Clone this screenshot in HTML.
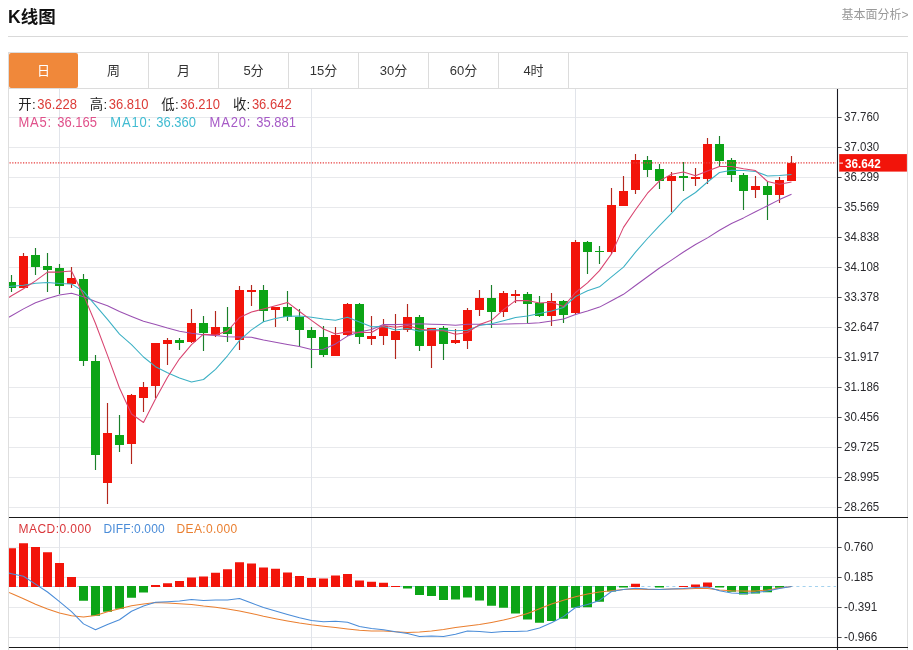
<!DOCTYPE html>
<html lang="zh-CN"><head><meta charset="utf-8"><title>K线图</title>
<style>
html,body{margin:0;padding:0;background:#fff}
body{width:913px;height:650px;position:relative;overflow:hidden;font-family:"Liberation Sans","Noto Sans CJK SC",sans-serif;color:#222}
.title{position:absolute;left:8px;top:4.8px;font-size:17.5px;font-weight:bold;color:#111;line-height:24px}
.more{position:absolute;right:4.6px;top:6px;font-size:12px;color:#999;line-height:18px}
.hr{position:absolute;left:8px;top:36px;width:900px;height:1px;background:#d9d9d9}
.tabs{position:absolute;left:8px;top:52px;width:898px;height:35px;border:1px solid #dcdcdc;background:#fff}
.tab{position:absolute;top:0;width:70px;height:35px;line-height:36px;text-align:center;font-size:13px;color:#333;border-right:1px solid #dcdcdc;box-sizing:border-box}
.tab.on{background:#f0883a;color:#fff;border-right:0;border-radius:3px 0 0 3px;width:69px;height:34.6px;line-height:35.4px;left:0.2px;top:0.4px;border-radius:2px}
.lg{position:absolute;white-space:nowrap;line-height:20px;transform:scaleY(1.09);transform-origin:0 50%}
.lg i{font-style:normal;position:absolute;top:0}
.l1{left:0;top:95.4px;font-size:13px;color:#222;height:20px}
.l1 .c{font-size:13.4px;top:-0.3px;transform:scaleY(0.9);transform-origin:0 55%;letter-spacing:0.3px}
.l1 .v{color:#dc3c38}
.l2{left:0;top:112.6px;font-size:13px;height:20px}
.l3{left:0;top:518.6px;font-size:12px;height:20px}
</style></head><body>
<div class="title">K线图</div>
<div class="more">基本面分析&gt;</div>
<div class="hr"></div>
<div class="tabs">
<div class="tab on" style="left:0">日</div>
<div class="tab" style="left:70px">周</div>
<div class="tab" style="left:140px">月</div>
<div class="tab" style="left:210px">5分</div>
<div class="tab" style="left:280px">15分</div>
<div class="tab" style="left:350px">30分</div>
<div class="tab" style="left:420px">60分</div>
<div class="tab" style="left:490px">4时</div>
</div>
<svg width="913" height="650" viewBox="0 0 913 650" style="position:absolute;left:0;top:0">
<defs><clipPath id="cp"><rect x="9" y="89" width="828" height="558"/></clipPath></defs>
<path d="M9 117.5H836M9 147.5H836M9 177.5H836M9 207.5H836M9 237.5H836M9 267.5H836M9 297.5H836M9 327.5H836M9 357.5H836M9 387.5H836M9 417.5H836M9 447.5H836M9 477.5H836M9 507.5H836M9 547.5H836M9 577.5H836M9 607.5H836M9 637.5H836" stroke="#e8e9ec" stroke-width="1" fill="none"/>
<path d="M59.5 89V650M311.5 89V650M575.5 89V650" stroke="#e1e4ea" stroke-width="1" fill="none"/>
<path d="M8.5 88V650M907.5 88V650" stroke="#dedede" stroke-width="1" fill="none"/>
<path d="M9 586.5H836" stroke="#a4d2ee" stroke-width="1" stroke-dasharray="3 3.2" fill="none"/>
<g clip-path="url(#cp)">
<path d="M23.5 253V288M71.5 267V288M107.5 403V504M131.5 394V464M143.5 382V412M155.5 343V398M167.5 338V365M191.5 309V343M215.5 311V337M239.5 286V350M251.5 285V306M275.5 307V327M335.5 327V356M347.5 303V336M371.5 316V345M383.5 319V345M395.5 314V359M407.5 304V332M431.5 328V368M455.5 329V344M467.5 308V349M479.5 290V316M503.5 291V317M515.5 290V303M551.5 293V326M575.5 240V314M611.5 188V254M623.5 176V206M635.5 154V194M671.5 172V212M695.5 168V186M707.5 138V184M755.5 176V198M779.5 177V203M791.5 156V181" stroke="#b3261c" stroke-width="1.15" fill="none"/>
<path d="M19 256h9V288h-9zM67 278h9V284h-9zM103 433h9V483h-9zM127 395h9V444h-9zM139 387h9V398h-9zM151 343h9V386h-9zM163 340h9V344h-9zM187 323h9V342h-9zM211 327h9V335h-9zM235 290h9V340h-9zM247 290h9V292h-9zM271 307h9V310h-9zM331 335h9V356h-9zM343 304h9V335h-9zM367 336h9V339h-9zM379 326h9V336h-9zM391 331h9V340h-9zM403 317h9V330h-9zM427 328h9V346h-9zM451 340h9V343h-9zM463 310h9V341h-9zM475 298h9V310h-9zM499 293h9V312h-9zM511 294h9V296h-9zM547 301h9V316h-9zM571 242h9V313h-9zM607 205h9V252h-9zM619 191h9V206h-9zM631 160h9V190h-9zM667 176h9V181h-9zM691 177h9V179h-9zM703 144h9V179h-9zM751 186h9V190h-9zM775 180h9V195h-9zM787 163h9V181h-9z" fill="#f2140a"/>
<path d="M11.5 275V292M35.5 248V275M47.5 253V292M59.5 264V294M83.5 274V366M95.5 355V470M119.5 415V452M179.5 338V350M203.5 316V351M227.5 307V342M263.5 285V322M287.5 291V321M299.5 309V347M311.5 327V368M323.5 326V357M359.5 303V344M419.5 315V351M443.5 326V360M491.5 285V328M527.5 292V323M539.5 296V317M563.5 300V323M587.5 241V274M599.5 246V264M647.5 156V177M659.5 164V189M683.5 162V191M719.5 136V167M731.5 158V182M743.5 173V210M767.5 182V220" stroke="#1a7f2a" stroke-width="1.15" fill="none"/>
<path d="M7 282h9V288h-9zM31 255h9V267h-9zM43 266h9V270h-9zM55 268h9V286h-9zM79 279h9V361h-9zM91 361h9V455h-9zM115 435h9V445h-9zM175 340h9V343h-9zM199 323h9V333h-9zM223 327h9V334h-9zM259 290h9V311h-9zM283 307h9V317h-9zM295 317h9V330h-9zM307 330h9V338h-9zM319 337h9V355h-9zM355 304h9V337h-9zM415 317h9V346h-9zM439 328h9V344h-9zM487 298h9V312h-9zM523 294h9V304h-9zM535 303h9V316h-9zM559 301h9V315h-9zM583 242h9V252h-9zM595 251h9V252h-9zM643 160h9V170h-9zM655 169h9V181h-9zM679 176h9V178h-9zM715 144h9V161h-9zM727 160h9V175h-9zM739 175h9V191h-9zM763 186h9V195h-9z" fill="#0ca416"/>
<path d="M7 548.2h9V587h-9zM19 543.2h9V587h-9zM31 546.9h9V587h-9zM43 552.2h9V587h-9zM55 563.1h9V587h-9zM67 577.1h9V587h-9zM151 585h9V587h-9zM163 583.2h9V587h-9zM175 581.1h9V587h-9zM187 577.5h9V587h-9zM199 576.6h9V587h-9zM211 572.7h9V587h-9zM223 569.2h9V587h-9zM235 562.2h9V587h-9zM247 563.6h9V587h-9zM259 567.5h9V587h-9zM271 568.7h9V587h-9zM283 572.4h9V587h-9zM295 576h9V587h-9zM307 578h9V587h-9zM319 578.5h9V587h-9zM331 575.4h9V587h-9zM343 574.1h9V587h-9zM355 580.6h9V587h-9zM367 581.8h9V587h-9zM379 582.7h9V587h-9zM391 586h9V587h-9zM631 583.8h9V587h-9zM679 585.9h9V587h-9zM691 584.5h9V587h-9zM703 582.4h9V587h-9z" fill="#f2140a"/>
<path d="M79 586h9V600.8h-9zM91 586h9V615.7h-9zM103 586h9V611.7h-9zM115 586h9V608.7h-9zM127 586h9V597.8h-9zM139 586h9V592.4h-9zM403 586h9V588.5h-9zM415 586h9V595h-9zM427 586h9V595.9h-9zM439 586h9V599.9h-9zM451 586h9V599.6h-9zM463 586h9V597.6h-9zM475 586h9V600.4h-9zM487 586h9V605.7h-9zM499 586h9V607.8h-9zM511 586h9V613.6h-9zM523 586h9V619.6h-9zM535 586h9V622.7h-9zM547 586h9V621h-9zM559 586h9V618.7h-9zM571 586h9V607.8h-9zM583 586h9V607.3h-9zM595 586h9V601.7h-9zM607 586h9V591.5h-9zM619 586h9V587.6h-9zM655 586h9V587.6h-9zM715 586h9V587.6h-9zM727 586h9V591.7h-9zM739 586h9V594.4h-9zM751 586h9V593.4h-9zM763 586h9V592.3h-9zM775 586h9V587.7h-9z" fill="#0ca416"/>
<polyline points="-0.5,323 11.5,315.7 23.5,308.9 35.5,302.8 47.5,298.4 59.5,294.9 71.5,293.2 83.5,296.7 95.5,301.6 107.5,305.8 119.5,311.5 131.5,316.5 143.5,321.3 155.5,324.6 167.5,328.1 179.5,331.2 191.5,333.3 203.5,334.7 215.5,335.6 227.5,336.7 239.5,336.9 251.5,337.3 263.5,340.1 275.5,342.2 287.5,344.5 299.5,346.6 311.5,349.6 323.5,349.2 335.5,343.9 347.5,336.1 359.5,332 371.5,329.6 383.5,324.6 395.5,324.6 407.5,324.3 419.5,323.8 431.5,324.3 443.5,324.6 455.5,325.2 467.5,324.3 479.5,324.3 491.5,324.6 503.5,324.1 515.5,323.8 527.5,323.4 539.5,322.7 551.5,321.1 563.5,318.9 575.5,314.5 587.5,311 599.5,307.1 611.5,300.8 623.5,294.3 635.5,285.5 647.5,276.8 659.5,268 671.5,260.1 683.5,252 695.5,244.5 707.5,237.9 719.5,230.3 731.5,223.5 743.5,217.9 755.5,211.8 767.5,205.7 779.5,199.6 791.5,194.3" stroke="#9a50b2" stroke-width="1.05" fill="none" stroke-linejoin="round"/>
<polyline points="-0.5,287.5 11.5,286.3 23.5,285.3 35.5,283.2 47.5,282.6 59.5,283.5 71.5,284 83.5,291.4 95.5,305.3 107.5,319.3 119.5,334.2 131.5,344.7 143.5,357 155.5,366.7 167.5,372.8 179.5,378.1 191.5,381.9 203.5,379.5 215.5,369.3 227.5,355.8 239.5,340.4 251.5,329.9 263.5,321.7 275.5,318.5 287.5,316.2 299.5,315.9 311.5,317.3 323.5,319 335.5,320.3 347.5,317.3 359.5,322 371.5,326.8 383.5,326.4 395.5,329.9 407.5,328.5 419.5,331.3 431.5,329.6 443.5,329.9 455.5,330.8 467.5,330.3 479.5,325.5 491.5,323.8 503.5,320.8 515.5,317.6 527.5,315.9 539.5,313.6 551.5,311 563.5,307.5 575.5,296.6 587.5,290.8 599.5,286.8 611.5,276.8 623.5,267.1 635.5,252.2 647.5,238.5 659.5,225.6 671.5,213.3 683.5,200.2 695.5,192.5 707.5,182 719.5,172.5 731.5,170.3 743.5,170.6 755.5,171.5 767.5,175.9 779.5,175.5 791.5,174.6" stroke="#3bb0c4" stroke-width="1.05" fill="none" stroke-linejoin="round"/>
<polyline points="-0.5,304 11.5,295.7 23.5,288.8 35.5,280.9 47.5,272.1 59.5,272.1 71.5,270.9 83.5,294.9 95.5,323.5 107.5,355.4 119.5,388 131.5,414 143.5,422.5 155.5,399.1 167.5,377.2 179.5,358.8 191.5,344.7 203.5,334.2 215.5,335.1 227.5,331 239.5,317.6 251.5,312 263.5,308.9 275.5,305.7 287.5,302.4 299.5,311.5 311.5,320.3 323.5,329 335.5,334 347.5,331.7 359.5,332.5 371.5,332.5 383.5,325.5 395.5,327.3 407.5,325.5 419.5,329 431.5,330.8 443.5,330.8 455.5,334.3 467.5,332.5 479.5,324.6 491.5,320.3 503.5,309.7 515.5,300.6 527.5,300.5 539.5,303.1 551.5,302.2 563.5,306.6 575.5,292.5 587.5,282.9 599.5,270.6 611.5,253.9 623.5,227.4 635.5,209.8 647.5,193.2 659.5,180.9 671.5,174.2 683.5,172.1 695.5,175.7 707.5,171.1 719.5,166.6 731.5,166.5 743.5,168.8 755.5,170.6 767.5,181.5 779.5,184.3 791.5,182" stroke="#d8436f" stroke-width="1.05" fill="none" stroke-linejoin="round"/>
<polyline points="-0.5,589 11.5,593.5 23.5,598.7 35.5,604.3 47.5,609 59.5,613.1 71.5,615.7 83.5,616.9 95.5,615.4 107.5,611.8 119.5,608.7 131.5,605.7 143.5,603.9 155.5,602.5 167.5,603.1 179.5,603.8 191.5,604.6 203.5,606.1 215.5,607.3 227.5,609 239.5,611 251.5,613.4 263.5,616.2 275.5,618.7 287.5,621 299.5,623.1 311.5,624.8 323.5,626.2 335.5,627.5 347.5,628.9 359.5,630.3 371.5,631 383.5,631.1 395.5,631.8 407.5,632.4 419.5,632 431.5,631 443.5,629.4 455.5,627.5 467.5,625.9 479.5,624.5 491.5,622.4 503.5,620.1 515.5,617.1 527.5,613.6 539.5,608.7 551.5,603.9 563.5,600.3 575.5,596.8 587.5,594.1 599.5,592 611.5,590.8 623.5,589.4 635.5,589 647.5,589.4 659.5,589.4 671.5,589 683.5,588.9 695.5,588.5 707.5,588.5 719.5,589.9 731.5,590.8 743.5,591.1 755.5,591.1 767.5,590 779.5,588 791.5,586.4" stroke="#ea7f30" stroke-width="1.05" fill="none" stroke-linejoin="round"/>
<polyline points="-0.5,571 11.5,573.7 23.5,576.2 35.5,584.1 47.5,592 59.5,601.7 71.5,611.7 83.5,623.9 95.5,629.7 107.5,624.5 119.5,619.7 131.5,611.3 143.5,606.1 155.5,602.3 167.5,601.7 179.5,601.1 191.5,599.6 203.5,600.4 215.5,599.9 227.5,599.9 239.5,598.5 251.5,603.1 263.5,607.5 275.5,611 287.5,614.5 299.5,617.8 311.5,620.4 323.5,621.8 335.5,621.3 347.5,622.2 359.5,626.6 371.5,628.5 383.5,629.7 395.5,631.8 407.5,633.6 419.5,636.4 431.5,635.9 443.5,636.4 455.5,634.3 467.5,631.1 479.5,631.5 491.5,632.4 503.5,631.5 515.5,631.5 527.5,631 539.5,628 551.5,622.7 563.5,616.6 575.5,607.5 587.5,604.6 599.5,600.4 611.5,591.5 623.5,589.4 635.5,588.2 647.5,589 659.5,589.4 671.5,589 683.5,588.5 695.5,587.6 707.5,587.1 719.5,590.8 731.5,592.9 743.5,593.4 755.5,592.5 767.5,591 779.5,588.5 791.5,586.4" stroke="#4a8cd8" stroke-width="1.05" fill="none" stroke-linejoin="round"/>
</g>
<path d="M9.5 162.9H836" stroke="#e63c3c" stroke-width="1.4" stroke-dasharray="1.25 1.45" fill="none"/>
<path d="M9 517.5H908M9 647.5H908" stroke="#1a1a1a" stroke-width="1.15" fill="none"/>
<path d="M837.5 89V650" stroke="#1a1a22" stroke-width="1.1" fill="none"/>
<path d="M838 117.5h3.6M838 147.5h3.6M838 177.5h3.6M838 207.5h3.6M838 237.5h3.6M838 267.5h3.6M838 297.5h3.6M838 327.5h3.6M838 357.5h3.6M838 387.5h3.6M838 417.5h3.6M838 447.5h3.6M838 477.5h3.6M838 507.5h3.6M838 547.5h3.6M838 577.5h3.6M838 607.5h3.6M838 637.5h3.6" stroke="#333" stroke-width="0.9" fill="none"/>
<g font-family="Liberation Sans, sans-serif" font-size="12.8" fill="#2a2a2e">
<text x="844" y="121.4" textLength="35.2" lengthAdjust="spacingAndGlyphs">37.760</text>
<text x="844" y="151.4" textLength="35.2" lengthAdjust="spacingAndGlyphs">37.030</text>
<text x="844" y="181.4" textLength="35.2" lengthAdjust="spacingAndGlyphs">36.299</text>
<text x="844" y="211.4" textLength="35.2" lengthAdjust="spacingAndGlyphs">35.569</text>
<text x="844" y="241.4" textLength="35.2" lengthAdjust="spacingAndGlyphs">34.838</text>
<text x="844" y="271.4" textLength="35.2" lengthAdjust="spacingAndGlyphs">34.108</text>
<text x="844" y="301.4" textLength="35.2" lengthAdjust="spacingAndGlyphs">33.378</text>
<text x="844" y="331.4" textLength="35.2" lengthAdjust="spacingAndGlyphs">32.647</text>
<text x="844" y="361.4" textLength="35.2" lengthAdjust="spacingAndGlyphs">31.917</text>
<text x="844" y="391.4" textLength="35.2" lengthAdjust="spacingAndGlyphs">31.186</text>
<text x="844" y="421.4" textLength="35.2" lengthAdjust="spacingAndGlyphs">30.456</text>
<text x="844" y="451.4" textLength="35.2" lengthAdjust="spacingAndGlyphs">29.725</text>
<text x="844" y="481.4" textLength="35.2" lengthAdjust="spacingAndGlyphs">28.995</text>
<text x="844" y="511.4" textLength="35.2" lengthAdjust="spacingAndGlyphs">28.265</text>
<text x="844" y="551.4" textLength="29.3" lengthAdjust="spacingAndGlyphs">0.760</text>
<text x="844" y="581.4" textLength="29.3" lengthAdjust="spacingAndGlyphs">0.185</text>
<text x="844" y="611.4" textLength="33.2" lengthAdjust="spacingAndGlyphs">-0.391</text>
<text x="844" y="641.4" textLength="33.2" lengthAdjust="spacingAndGlyphs">-0.966</text>
</g>
<rect x="839.2" y="154.1" width="67.7" height="17.5" fill="#f2140a"/>
<path d="M839.3 163.1h3.7" stroke="#fff" stroke-width="1"/>
<text x="845" y="168.1" font-family="Liberation Sans, sans-serif" font-size="13.4" font-weight="bold" fill="#fff" textLength="35.8" lengthAdjust="spacingAndGlyphs">36.642</text>
</svg>
<div class="lg l1">
<i class="c" style="left:18.2px">开:</i><i class="v" style="left:37.2px">36.228</i>
<i class="c" style="left:89.8px">高:</i><i class="v" style="left:108.8px">36.810</i>
<i class="c" style="left:161.3px">低:</i><i class="v" style="left:180.3px">36.210</i>
<i class="c" style="left:232.9px">收:</i><i class="v" style="left:251.9px">36.642</i>
</div>
<div class="lg l2">
<i style="left:18.4px;color:#e0508a;letter-spacing:0.8px">MA5:</i><i style="left:57.3px;color:#e0508a">36.165</i>
<i style="left:110.3px;color:#42bcd2;letter-spacing:0.8px">MA10:</i><i style="left:156.2px;color:#42bcd2">36.360</i>
<i style="left:209.6px;color:#a65ac6;letter-spacing:0.8px">MA20:</i><i style="left:256.2px;color:#a65ac6">35.881</i>
</div>
<div class="lg l3">
<i style="left:18.5px;color:#d9363a;letter-spacing:0.45px">MACD:0.000</i>
<i style="left:103.5px;color:#4a8cd8;letter-spacing:0.12px">DIFF:0.000</i>
<i style="left:176.6px;color:#ea7f30;letter-spacing:0.33px">DEA:0.000</i>
</div>
</body></html>
